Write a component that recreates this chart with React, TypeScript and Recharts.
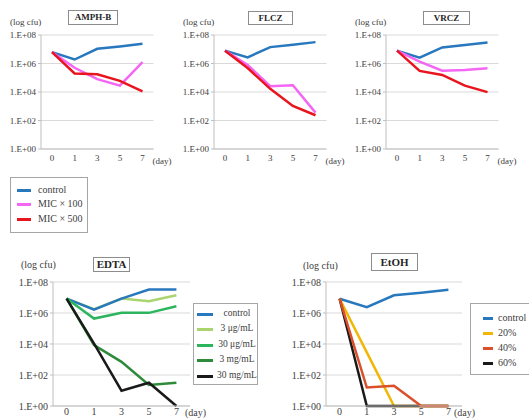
import React from 'react'
import { LineChart, Line, XAxis, YAxis, CartesianGrid } from 'recharts'

const days = ['0', '1', '3', '5', '7']
const logTicks = [0, 2, 4, 6, 8]

// log10(cfu)
const amphbControl = [6.8, 6.28, 7.03, 7.2, 7.38]
const amphbMic100 = [6.8, 5.7, 4.9, 4.45, 6.1]
const amphbMic500 = [6.8, 5.3, 5.24, 4.78, 4.05]

const flczControl = [6.9, 6.43, 7.15, 7.31, 7.5]
const flczMic100 = [6.9, 5.9, 4.41, 4.48, 2.55]
const flczMic500 = [6.9, 5.68, 4.22, 3.02, 2.37]

const vrczControl = [6.9, 6.41, 7.13, 7.3, 7.48]
const vrczMic100 = [6.9, 6.13, 5.5, 5.55, 5.66]
const vrczMic500 = [6.9, 5.48, 5.2, 4.45, 3.99]

const edtaControl = [6.93, 6.22, 6.93, 7.51, 7.51]
const edta3ug = [6.93, 6.25, 6.93, 6.76, 7.15]
const edta30ug = [6.93, 5.64, 6.01, 6.01, 6.44]
const edta3mg = [6.93, 3.93, 2.85, 1.35, 1.5]
const edta30mg = [6.93, 4.03, 0.99, 1.5, 0]

const etohControl = [6.92, 6.38, 7.14, 7.31, 7.5]
const etoh20 = [6.92, 3.46, 0, 0, 0]
const etoh40 = [6.92, 1.19, 1.3, 0, 0]
const etoh60 = [6.92, 0, 0, 0, 0]

const micNames = ['control', 'MIC × 100', 'MIC × 500']
const micColors = ['#2878BE', '#F466F4', '#E8141E']
const edtaNames = ['control', '3 μg/mL', '30 μg/mL', '3 mg/mL', '30 mg/mL']
const edtaColors = ['#2878BE', '#A9D46F', '#2DB55D', '#2E8B3A', '#1A1A1A']
const etohNames = ['control', '20%', '40%', '60%']
const etohColors = ['#2878BE', '#F2B705', '#D9502A', '#1A1A1A']

const serif = 'Liberation Serif'
const txt = '#404040'

type Series = { name: string; color: string; values: number[] }

const mk = (names: string[], colors: string[], vals: number[][]): Series[] =>
  names.map((n, i) => ({ name: n, color: colors[i], values: vals[i] }))

const fmt = (v: number) => '1.E+' + String(v).padStart(2, '0')

function Panel(props: {
  left: number; top: number; width: number; height: number
  pl: number; pr: number; pt: number; pb: number; pad: number; font: number
  series: Series[]; order: number[]; dayOffset: number; tickGap: number
}) {
  const { left, top, width, height, pl, pr, pt, pb, pad, font, series, order, dayOffset, tickGap } = props
  const data = days.map((d, i) => {
    const row: any = { day: d }
    series.forEach((s) => { row[s.name] = s.values[i] })
    return row
  })
  return (
    <div style={{ position: 'absolute', left, top }}>
      <LineChart width={width} height={height} data={data}
        margin={{ top: pt, right: width - pr, bottom: 0, left: 0 }}>
        <CartesianGrid vertical={false} stroke="#d9d9d9" />
        <XAxis dataKey="day" height={height - pb} interval={0}
          padding={{ left: pad, right: pad }}
          tickLine={false} tickSize={0} tickMargin={tickGap}
          axisLine={{ stroke: '#bfbfbf' }}
          tick={{ fontSize: font, fill: txt, fontFamily: serif }}
          label={{ value: '(day)', position: 'right', offset: dayOffset, fontSize: font, fill: txt, fontFamily: serif }} />
        <YAxis width={pl} domain={[0, 8]} ticks={logTicks} interval={0}
          tickFormatter={fmt} tickSize={3} tickMargin={2}
          tickLine={{ stroke: '#bfbfbf' }} axisLine={{ stroke: '#bfbfbf' }}
          tick={{ fontSize: font, fill: txt, fontFamily: serif }} />
        {order.map((i) => (
          <Line key={series[i].name} dataKey={series[i].name} stroke={series[i].color}
            strokeWidth={2.5} dot={false} type="linear" isAnimationActive={false} />
        ))}
      </LineChart>
    </div>
  )
}

function TitleBox({ x, y, w, h, text, font }: { x: number; y: number; w: number; h: number; text: string; font: number }) {
  return (
    <div style={{
      position: 'absolute', left: x, top: y, width: w, height: h, boxSizing: 'border-box',
      border: '1px solid #8c8c8c', fontFamily: serif, fontWeight: 'bold', fontSize: font,
      color: '#262626', textAlign: 'center', lineHeight: `${h - 2}px`, background: '#fff',
    }}>{text}</div>
  )
}

function Note({ x, y, text, font }: { x: number; y: number; text: string; font: number }) {
  return (
    <div style={{ position: 'absolute', left: x, top: y - font * 0.6, fontFamily: serif, fontSize: font, color: txt, lineHeight: 1.2, whiteSpace: 'nowrap' }}>{text}</div>
  )
}

function LegendBox(props: {
  x: number; y: number; w: number; h: number; names: string[]; colors: string[]
  first: number; step: number; swX: number; swW: number; textX: number; textW?: number; font: number
}) {
  const { x, y, w, h, names, colors, first, step, swX, swW, textX, textW, font } = props
  return (
    <div style={{ position: 'absolute', left: x, top: y, width: w, height: h, boxSizing: 'border-box', border: '1px solid #a6a6a6', background: '#fff' }}>
      {names.map((n, i) => (
        <React.Fragment key={n}>
          <div style={{ position: 'absolute', left: swX, top: first + i * step - 1.5, width: swW, height: 3, background: colors[i] }} />
          <div style={{
            position: 'absolute', left: textX, top: first + i * step - font * 0.65, width: textW,
            textAlign: textW ? 'center' : 'left', fontFamily: serif, fontSize: font, color: txt, lineHeight: 1.2, whiteSpace: 'nowrap',
          }}>{n}</div>
        </React.Fragment>
      ))}
    </div>
  )
}

export default function App() {
  const amphb = mk(micNames, micColors, [amphbControl, amphbMic100, amphbMic500])
  const flcz = mk(micNames, micColors, [flczControl, flczMic100, flczMic500])
  const vrcz = mk(micNames, micColors, [vrczControl, vrczMic100, vrczMic500])
  const edta = mk(edtaNames, edtaColors, [edtaControl, edta3ug, edta30ug, edta3mg, edta30mg])
  const etoh = mk(etohNames, etohColors, [etohControl, etoh20, etoh40, etoh60])

  const top = { width: 172, height: 172, pl: 41, pr: 153.5, pt: 35, pb: 149, pad: 11, font: 9, dayOffset: -1, tickGap: 6 }
  const bottom = { width: 215, height: 189, pl: 53, pr: 190, pt: 52, pb: 176, pad: 13.6, font: 10, tickGap: 2 }

  return (
    <div style={{ position: 'absolute', left: 0, top: 0, width: 529, height: 419, overflow: 'hidden', background: '#fff' }}>
      <Panel left={0} top={0} {...top} series={amphb} order={[0, 1, 2]} />
      <Panel left={173} top={0} {...top} series={flcz} order={[0, 1, 2]} />
      <Panel left={345} top={0} {...top} series={vrcz} order={[0, 1, 2]} />
      <Panel left={0} top={230} {...bottom} dayOffset={-5} series={edta} order={[1, 0, 2, 3, 4]} />
      <Panel left={273} top={230} {...bottom} pr={189} dayOffset={-8} series={etoh} order={[0, 1, 3, 2]} />

      <TitleBox x={68} y={10} w={50} h={15} text="AMPH-B" font={9} />
      <TitleBox x={248} y={11} w={45} h={14} text="FLCZ" font={9} />
      <TitleBox x={423} y={11} w={47} h={14} text="VRCZ" font={9} />
      <TitleBox x={93} y={257} w={37} h={15} text="EDTA" font={11} />
      <TitleBox x={371} y={253} w={47} h={18} text="EtOH" font={11} />

      <Note x={10} y={22} text="(log cfu)" font={9} />
      <Note x={183} y={22} text="(log cfu)" font={9} />
      <Note x={355} y={22} text="(log cfu)" font={9} />
      <Note x={21} y={265} text="(log cfu)" font={10} />
      <Note x={303} y={266} text="(log cfu)" font={10} />

      <LegendBox x={10} y={177} w={78} h={56} names={micNames} colors={micColors}
        first={12} step={14.5} swX={6} swW={14} textX={27} font={10} />
      <LegendBox x={193} y={303} w={65} h={82} names={edtaNames} colors={edtaColors}
        first={10} step={15.5} swX={3} swW={16} textX={22} textW={42} font={9.5} />
      <LegendBox x={470} y={303} w={64} h={72} names={etohNames} colors={etohColors}
        first={14} step={15.2} swX={12} swW={10} textX={27} font={10} />
    </div>
  )
}
